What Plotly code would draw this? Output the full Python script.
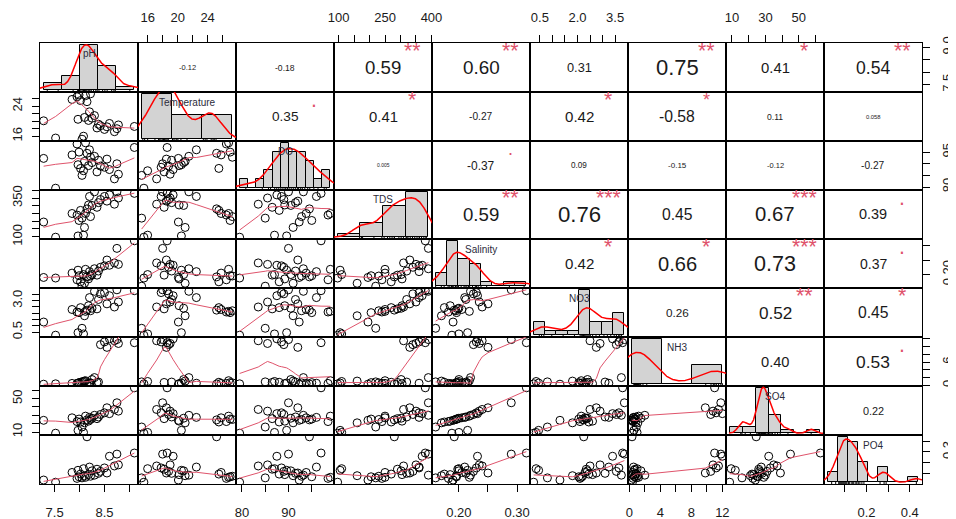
import numpy as np
import plotly.graph_objects as go

# ---------------- data ----------------
names = ["pH", "Temperature", "DO", "TDS", "Salinity", "NO3", "NH3", "SO4", "PO4"]

pH = [7.28, 7.52, 7.85, 7.95, 7.97, 7.99, 8.02, 8.05, 8.08, 8.10, 8.12, 8.15, 8.18, 8.20,
      8.22, 8.25, 8.30, 8.35, 8.38, 8.42, 8.50, 8.55, 8.60, 8.70, 8.75, 8.78, 9.10]
Temperature = [20.1, 15.5, 25.8, 26.5, 20.5, 27.0, 25.5, 15.2, 16.0, 21.0, 26.8, 25.2, 20.2, 22.5,
               27.3, 20.8, 21.5, 18.2, 19.2, 18.8, 17.8, 18.5, 19.4, 17.2, 18.0, 19.0, 18.6]
DO = [92.3, 79.5, 93.8, 98.5, 89.6, 95.0, 88.0, 85.0, 87.0, 91.0, 99.0, 94.5, 89.2, 96.0,
      92.8, 90.5, 93.2, 86.5, 91.5, 89.0, 88.5, 92.0, 87.5, 83.5, 90.0, 85.5, 97.0]
TDS = [195, 97, 250, 240, 105, 205, 270, 220, 110, 160, 250, 280, 305, 360,
       230, 302, 390, 290, 320, 340, 360, 330, 370, 310, 390, 350, 380]
Salinity = [0.190, 0.188, 0.205, 0.182, 0.215, 0.196, 0.175, 0.160, 0.200, 0.170, 0.218, 0.192, 0.185, 0.210,
            0.195, 0.200, 0.220, 0.198, 0.212, 0.225, 0.230, 0.250, 0.232, 0.240, 0.290, 0.235, 0.316]
NO3 = [1.30, 0.25, 2.30, 2.10, 0.45, 2.05, 2.45, 0.80, 0.35, 1.80, 2.15, 2.25, 2.60, 3.25,
       2.20, 2.40, 3.75, 2.35, 3.10, 3.55, 3.65, 2.75, 3.40, 2.50, 3.87, 2.90, 3.80]
NH3 = [0.30, 0.40, 0.50, 0.50, 0.60, 0.70, 0.80, 0.90, 1.00, 1.10, 1.20, 0.35, 0.45, 0.55,
       0.65, 1.50, 2.00, 0.75, 0.85, 10.5, 11.2, 9.8, 12.0, 11.5, 11.8, 10.8, 11.0]
SO4 = [24.0, 8.6, 27.0, 22.5, 12.0, 25.5, 22.0, 16.0, 9.5, 21.0, 29.0, 24.5, 23.0, 27.5,
       25.0, 26.5, 30.0, 26.0, 28.0, 31.0, 33.0, 39.0, 32.0, 37.0, 45.0, 35.0, 62.9]
PO4 = [0.040, 0.020, 0.110, 0.055, 0.130, 0.070, 0.095, 0.060, 0.145, 0.080, 0.065, 0.440, 0.090, 0.160,
       0.075, 0.125, 0.085, 0.140, 0.102, 0.120, 0.152, 0.105, 0.260, 0.170, 0.280, 0.180, 0.290]

columns = [pH, Temperature, DO, TDS, Salinity, NO3, NH3, SO4, PO4]

# histogram bin widths of the diagonal panels
hist_binwidth = [0.4, 5, 2, 100, 0.02, 0.5, 4, 10, 0.05]

# correlation labels of the upper panels (row by row) and significance marks
cor_labels = [
    ["-0.12", "-0.18", "0.59", "0.60", "0.31", "0.75", "0.41", "0.54"],
    ["0.35", "0.41", "-0.27", "0.42", "-0.58", "0.11", "0.058"],
    ["0.005", "-0.37", "0.09", "-0.15", "-0.12", "-0.27"],
    ["0.59", "0.76", "0.45", "0.67", "0.39"],
    ["0.42", "0.66", "0.73", "0.37"],
    ["0.26", "0.52", "0.45"],
    ["0.40", "0.53"],
    ["0.22"],
]
cor_stars = [
    ["", "", "**", "**", "", "**", "*", "**"],
    [".", "*", "", "*", "*", "", ""],
    ["", ".", "", "", "", ""],
    ["**", "***", "", "***", "."],
    ["*", "*", "***", "."],
    ["", "**", "*"],
    ["", "."],
    [""],
]

# outer axis ticks
top_ticks = {1: ([16, 18, 20, 22, 24, 26], ["16", "", "20", "", "24", ""]),
             3: ([100, 150, 200, 250, 300, 350, 400], ["100", "", "", "250", "", "", "400"]),
             5: ([0.5, 1.0, 1.5, 2.0, 2.5, 3.0, 3.5], ["0.5", "", "", "2.0", "", "", "3.5"]),
             7: ([10, 20, 30, 40, 50, 60], ["10", "", "30", "", "50", ""])}
bottom_ticks = {0: ([7.5, 8.0, 8.5, 9.0], ["7.5", "", "8.5", ""]),
                2: ([80, 85, 90, 95], ["80", "", "90", ""]),
                4: ([0.20, 0.25, 0.30], ["0.20", "", "0.30"]),
                6: ([0, 2, 4, 6, 8, 10, 12], ["0", "", "4", "", "8", "", "12"]),
                8: ([0.0, 0.1, 0.2, 0.3, 0.4], ["0.0", "", "0.2", "", "0.4"])}
left_ticks = {1: ([16, 18, 20, 22, 24, 26], ["16", "", "", "", "24", ""]),
              3: ([100, 150, 200, 250, 300, 350, 400], ["100", "", "", "", "", "350", ""]),
              5: ([0.5, 1.0, 1.5, 2.0, 2.5, 3.0, 3.5], ["0.5", "", "", "", "", "3.0", ""]),
              7: ([10, 20, 30, 40, 50, 60], ["10", "", "", "", "50", ""])}
right_ticks = {0: ([7.5, 8.0, 8.5, 9.0], ["7.5", "", "", "9.0"]),
               2: ([80, 85, 90, 95], ["80", "", "", "95"]),
               4: ([0.20, 0.25, 0.30], ["0.20", "", ""]),
               6: ([0, 2, 4, 6, 8, 10, 12], ["0", "", "", "6", "", "", ""]),
               8: ([0.0, 0.1, 0.2, 0.3, 0.4], ["0.0", "", "", "0.3", ""])}

# ---------------- helpers ----------------
SMOOTH_COL = "#DF536B"
FONT = "Liberation Sans, Arial, sans-serif"
TXT = "#1a1a1a"


def lowess(x, y, f=2 / 3, it=3):
    x = np.asarray(x, float)
    y = np.asarray(y, float)
    o = np.argsort(x, kind="mergesort")
    x, y = x[o], y[o]
    n = len(x)
    ns = max(min(int(f * n + 1e-7), n), 2)
    rw = np.ones(n)
    ys = y.copy()
    xr = x[-1] - x[0]
    for itr in range(it + 1):
        for i in range(n):
            d = np.abs(x - x[i])
            h = np.sort(d)[ns - 1]
            if h > 0:
                r = d / h
                w = np.where(r <= 0.999, (1 - np.clip(r, 0, 1) ** 3) ** 3, 0.0)
                w = np.where(r <= 0.001, 1.0, w)
            else:
                w = (d == 0).astype(float)
            w = w * rw
            if w.sum() <= 0:
                ys[i] = y[i]
                continue
            w = w / w.sum()
            if h > 0:
                a = np.sum(w * x)
                b = np.sum(w * (x - a) ** 2)
                if np.sqrt(b) > 0.001 * xr:
                    w = w * ((x[i] - a) * (x - a) / b + 1)
            ys[i] = np.sum(w * y)
        if itr == it:
            break
        res = y - ys
        cmad = 6 * np.median(np.abs(res))
        if cmad < 1e-7 * np.mean(np.abs(y)):
            break
        u = np.abs(res) / cmad
        rw = np.where(u < 0.001, 1.0, np.where(u > 0.999, 0.0, (1 - u ** 2) ** 2))
    return x, ys


def bw_nrd0(x):
    x = np.asarray(x, float)
    hi = np.std(x, ddof=1)
    q75, q25 = np.percentile(x, [75, 25])
    lo = min(hi, (q75 - q25) / 1.34)
    if lo <= 0:
        lo = hi if hi > 0 else 1.0
    return 0.9 * lo * len(x) ** (-0.2)


def kde(x):
    x = np.asarray(x, float)
    bw = bw_nrd0(x)
    g = np.linspace(x.min() - 3 * bw, x.max() + 3 * bw, 512)
    dens = np.exp(-0.5 * ((g[:, None] - x[None, :]) / bw) ** 2).sum(1) / (len(x) * bw * np.sqrt(2 * np.pi))
    return g, dens


def hist(x, w):
    x = np.asarray(x, float)
    lo = np.floor(x.min() / w + 1e-9) * w
    hi = np.ceil(x.max() / w - 1e-9) * w
    nb = int(round((hi - lo) / w))
    br = np.round(lo + w * np.arange(nb + 1), 10)
    idx = np.searchsorted(br, x, side="left") - 1
    idx[idx < 0] = 0
    cnt = np.bincount(idx, minlength=nb)[:nb]
    dens = cnt / (len(x) * w)
    return br, dens


def ext(lo, hi):
    r = hi - lo
    return [lo - 0.04 * r, hi + 0.04 * r]


def cwidth(s):
    wd = {".": 0.278, "-": 0.333}
    return sum(wd.get(c, 0.556) for c in s)


def an(k):
    return "" if k == 1 else str(k)


N = len(names)
ranges = [ext(min(c), max(c)) for c in columns]

fig = go.Figure()
layout = {}
annotations = []

for i in range(N):
    for j in range(N):
        k = i * N + j + 1
        xa = dict(domain=[j / N, (j + 1) / N], anchor="y" + an(k), range=ranges[j],
                  showgrid=False, zeroline=False, showline=True, mirror=True,
                  linecolor="black", linewidth=1, ticks="", showticklabels=False,
                  fixedrange=True, automargin=False)
        ya = dict(domain=[1 - (i + 1) / N, 1 - i / N], anchor="x" + an(k), range=ranges[i],
                  showgrid=False, zeroline=False, showline=True, mirror=True,
                  linecolor="black", linewidth=1, ticks="", showticklabels=False,
                  fixedrange=True, automargin=False)
        tickfont = dict(family=FONT, size=13, color=TXT)
        if i == 0 and j in top_ticks:
            tv, tt = top_ticks[j]
            xa.update(side="top", ticks="outside", ticklen=7, tickwidth=1, tickcolor="black",
                      tickvals=tv, ticktext=tt, showticklabels=True, tickfont=tickfont,
                      ticklabelstandoff=8)
        if i == N - 1 and j in bottom_ticks:
            tv, tt = bottom_ticks[j]
            xa.update(side="bottom", ticks="outside", ticklen=7, tickwidth=1, tickcolor="black",
                      tickvals=tv, ticktext=tt, showticklabels=True, tickfont=tickfont,
                      ticklabelstandoff=9)
        if j == 0 and i in left_ticks:
            tv, tt = left_ticks[i]
            ya.update(side="left", ticks="outside", ticklen=7, tickwidth=1, tickcolor="black",
                      tickvals=tv, ticktext=tt, showticklabels=True, tickfont=tickfont,
                      tickangle=-90, ticklabelstandoff=5)
        if j == N - 1 and i in right_ticks:
            tv, tt = right_ticks[i]
            ya.update(side="right", ticks="outside", ticklen=7, tickwidth=1, tickcolor="black",
                      tickvals=tv, ticktext=tt, showticklabels=True, tickfont=tickfont,
                      tickangle=-90, ticklabelstandoff=6)
        layout["xaxis" + an(k)] = xa
        layout["yaxis" + an(k)] = ya

        if i > j:
            # lower panel: scatter + lowess smooth
            fig.add_trace(go.Scatter(x=columns[j], y=columns[i], mode="markers",
                                     marker=dict(symbol="circle-open", size=8, color="black",
                                                 line=dict(width=1, color="black")),
                                     xaxis="x" + an(k), yaxis="y" + an(k), hoverinfo="skip"))
            sx, sy = lowess(columns[j], columns[i])
            fig.add_trace(go.Scatter(x=sx, y=sy, mode="lines",
                                     line=dict(color=SMOOTH_COL, width=1),
                                     xaxis="x" + an(k), yaxis="y" + an(k), hoverinfo="skip"))
        else:
            # invisible anchor trace so that the panel (frame and ticks) is drawn
            fig.add_trace(go.Scatter(x=[ranges[j][0]], y=[ranges[i][0]], mode="markers",
                                     marker=dict(size=1, opacity=0),
                                     xaxis="x" + an(k), yaxis="y" + an(k), hoverinfo="skip"))
        if i < j:
            # upper panel: correlation label and stars
            lab = cor_labels[i][j - i - 1]
            st = cor_stars[i][j - i - 1]
            r = abs(float(lab))
            W = cwidth(lab)
            K = 53.0
            size = K * (r + 0.3) / 1.3 / W
            annotations.append(dict(x=0.5, y=0.5, xref="x" + an(k) + " domain",
                                    yref="y" + an(k) + " domain", text=lab, showarrow=False,
                                    xanchor="center", yanchor="middle",
                                    font=dict(family=FONT, size=size, color=TXT)))
            if st:
                annotations.append(dict(x=0.8, y=0.8, xref="x" + an(k) + " domain",
                                        yref="y" + an(k) + " domain", text=st, showarrow=False,
                                        xanchor="center", yanchor="middle", yshift=2,
                                        font=dict(family=FONT, size=0.78 * K / W,
                                                  color=SMOOTH_COL)))

# diagonal panels: histogram + density + rug on their own hidden axes
for d in range(N):
    k = N * N + d + 1
    br, dens = hist(columns[d], hist_binwidth[d])
    w = hist_binwidth[d]
    ymax = dens.max()
    layout["xaxis" + an(k)] = dict(domain=[d / N, (d + 1) / N], anchor="y" + an(k),
                                   range=ext(br[0], br[-1]), visible=False, fixedrange=True,
                                   automargin=False)
    layout["yaxis" + an(k)] = dict(domain=[1 - (d + 1) / N, 1 - d / N], anchor="x" + an(k),
                                   range=ext(0, ymax), visible=False, fixedrange=True,
                                   automargin=False)
    fig.add_trace(go.Bar(x=(br[:-1] + br[1:]) / 2, y=dens, width=w,
                         marker=dict(color="#D3D3D3", line=dict(color="black", width=1)),
                         xaxis="x" + an(k), yaxis="y" + an(k), hoverinfo="skip"))
    gx, gy = kde(columns[d])
    fig.add_trace(go.Scatter(x=gx, y=gy, mode="lines", line=dict(color="red", width=1.5),
                             xaxis="x" + an(k), yaxis="y" + an(k), hoverinfo="skip"))
    fig.add_trace(go.Scatter(x=columns[d], y=[-0.04 * ymax] * len(columns[d]), mode="markers",
                             marker=dict(symbol="line-ns", size=4,
                                         line=dict(color="black", width=1)),
                             xaxis="x" + an(k), yaxis="y" + an(k), hoverinfo="skip"))
    annotations.append(dict(x=0.5, y=1, xref="x" + an(d * N + d + 1) + " domain",
                            yref="y" + an(d * N + d + 1) + " domain", text=names[d],
                            showarrow=False, xanchor="center", yanchor="middle", yshift=-10,
                            font=dict(family=FONT, size=10, color="#2b2b3b")))

fig.update_layout(**layout)
# the page body adds an 8 px offset, so the figure is 8 px smaller on each axis
fig.update_layout(width=948, height=511, margin=dict(l=32, r=34, t=35, b=35, autoexpand=False),
                  paper_bgcolor="white", plot_bgcolor="rgba(0,0,0,0)",
                  showlegend=False, annotations=annotations, bargap=0)
fig.write_html("out.html")
